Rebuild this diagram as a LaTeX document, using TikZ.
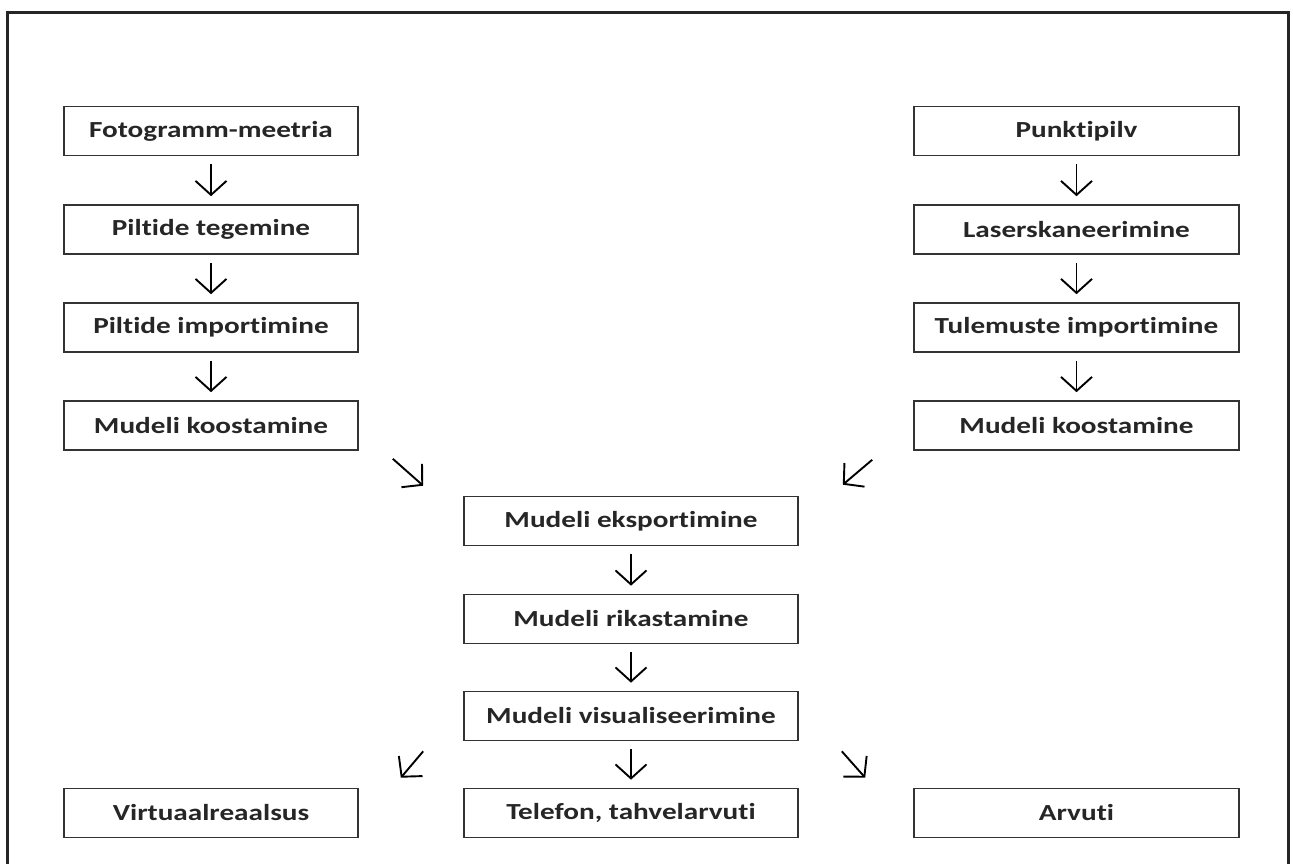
\documentclass[tikz,border=0pt]{standalone}
\usepackage{fontspec}
\usetikzlibrary{arrows.meta,calc}
\newfontfamily\boxfont{Carlito}[FakeStretch=1.27,Ligatures=NoCommon]

\begin{document}
\begin{tikzpicture}[x=1pt,y=-1pt,
  box/.style={draw=black!80,line width=1.6pt,minimum height=49,inner sep=0pt,
    text=black!85,font=\boxfont\bfseries\fontsize{23}{28}\selectfont},
  flow/.style={line width=1.9pt,-{Straight Barb[length=14pt,width=31pt]}}]
\useasboundingbox (0,0) rectangle (1293,864);
% frame, open at the bottom
\draw[line width=3pt,black!85] (7,864) -- (7,13) -- (1288,13) -- (1288,864);

% left column
\node[box,minimum width=294] (foto) at (211,131) {Fotogramm-meetria};
\node[box,minimum width=294] (pte) at (211,229.5) {Piltide tegemine};
\node[box,minimum width=294] (pim) at (211,327.5) {Piltide importimine};
\node[box,minimum width=294] (mkf) at (211,425.5) {Mudeli koostamine};

% right column
\node[box,minimum width=325] (punkt) at (1076.5,131) {Punktipilv};
\node[box,minimum width=325] (laser) at (1076.5,229.5) {Laserskaneerimine};
\node[box,minimum width=325] (tim) at (1076.5,327.5) {Tulemuste importimine};
\node[box,minimum width=325] (mkl) at (1076.5,425.5) {Mudeli koostamine};

% centre column
\node[box,minimum width=334] (eks) at (631,521) {Mudeli eksportimine};
\node[box,minimum width=334] (rik) at (631,619) {Mudeli rikastamine};
\node[box,minimum width=334] (vis) at (631,716) {Mudeli visualiseerimine};

% outputs
\node[box,minimum width=294] (vir) at (211,813) {Virtuaalreaalsus};
\node[box,minimum width=334] (tel) at (631,813) {Telefon, tahvelarvuti};
\node[box,minimum width=325] (arv) at (1076.5,813) {Arvuti};

\foreach \a/\b in {foto/pte,pte/pim,pim/mkf,punkt/laser,laser/tim,tim/mkl,eks/rik,rik/vis,vis/tel}
  \draw[flow,shorten <=8pt,shorten >=8pt] (\a) -- (\b);

\draw[flow] ($(mkf.south east)+(34,8)$) -- ($(eks.north west)+(-40,-10)$);
\draw[flow] ($(mkl.south west)+(-41,9)$) -- ($(eks.north east)+(44,-11)$);
\draw[flow] ($(vis.south west)+(-40,10)$) -- ($(vir.north east)+(42,-10)$);
\draw[flow] ($(vis.south east)+(43,10)$) -- ($(arv.north west)+(-48,-10)$);
\end{tikzpicture}
\end{document}
